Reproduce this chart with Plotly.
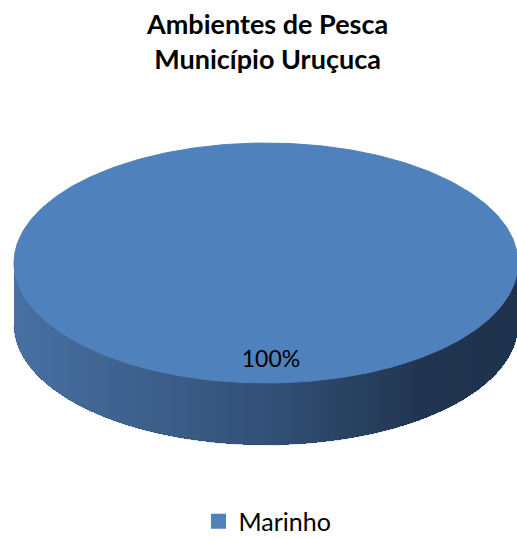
import numpy as np
import plotly.graph_objects as go

# ---- data ----
categories = ["Marinho"]
values = [100]
colors = ["#4F81BD"]
title_lines = ["Ambientes de Pesca", "Município Uruçuca"]

W, H = 517, 539
cx, cy, rx, ry, depth = 266, 263, 252, 120, 62

total = sum(values)
fig = go.Figure()

# side band gradient stops (x position, rgb)
stops_x = [cx - rx, 270, 420, cx + rx]
stops_c = [(72, 112, 162), (50, 80, 118), (33, 53, 80), (31, 50, 76)]
x_lo, x_hi = cx - rx, cx + rx
colorscale = [[(sx - x_lo) / (x_hi - x_lo), f"rgb{c}"] for sx, c in zip(stops_x, stops_c)]

start = 0.0
for cat, v, c in zip(categories, values, colors):
    frac = v / total
    t0, t1 = start, start + 2 * np.pi * frac
    start = t1
    # side band (front, lower half), drawn as a pixel-grid gradient
    gx = np.arange(int(x_lo), int(np.ceil(x_hi)) + 1) + 0.5
    gy = np.arange(int(cy) - 2, int(cy + ry + depth) + 3) + 0.5
    X, Y = np.meshgrid(gx, gy)
    u = np.clip(1 - ((X - cx) / rx) ** 2, 0, None)
    inside = (np.abs(X - cx) <= rx) & (Y >= cy - 1) & (Y <= cy + ry * np.sqrt(u) + depth)
    Z = np.where(inside, X, np.nan)
    fig.add_trace(go.Heatmap(x=gx, y=gy, z=Z, colorscale=colorscale,
                             zmin=x_lo, zmax=x_hi, showscale=False,
                             hoverinfo="skip", zsmooth=False))
    # bottom outline for smoother edge
    bt = np.linspace(0, np.pi, 200)
    fig.add_trace(go.Scatter(x=cx + rx * np.cos(bt), y=cy + ry * np.sin(bt) + depth,
                             mode="lines", line=dict(color="rgba(40,65,98,0.35)", width=0.8),
                             hoverinfo="skip", showlegend=False))
    # top face
    th = np.linspace(t0, t1, 361)
    fig.add_trace(go.Scatter(x=cx + rx * np.cos(th), y=cy + ry * np.sin(th),
                             mode="lines", fill="toself", fillcolor=c,
                             line=dict(color=c, width=1), hoverinfo="skip",
                             showlegend=False))
    # label
    mid = (t0 + t1) / 2 if frac < 1 else np.pi / 2
    lx = cx + 0.0 * rx * np.cos(mid) + 5
    ly = cy + 0.815 * ry * np.sin(mid)
    fig.add_trace(go.Scatter(x=[lx], y=[ly], mode="text",
                             text=[f"{frac*100:.0f}%"],
                             textfont=dict(family="Lato, Carlito, sans-serif", size=23, color="#000000"),
                             hoverinfo="skip", showlegend=False))
    # legend entry
    fig.add_trace(go.Scatter(x=[None], y=[None], mode="markers", name=cat,
                             marker=dict(symbol="square", size=15, color=c)))

fig.update_layout(
    width=W, height=H,
    margin=dict(l=0, r=0, t=0, b=0, autoexpand=False),
    paper_bgcolor="white", plot_bgcolor="white",
    xaxis=dict(range=[0, W], visible=False, fixedrange=True),
    yaxis=dict(range=[H, 0], visible=False, fixedrange=True),
    showlegend=True,
    legend=dict(orientation="h", x=0.5 + 9 / W, xanchor="center", y=-0.01,
                yanchor="bottom", font=dict(family="Lato, Carlito, sans-serif", size=25, color="#000000"),
                itemsizing="trace", bgcolor="rgba(0,0,0,0)"),
    annotations=[dict(text="<b>" + title_lines[0] + "<br>" + title_lines[1] + "</b>",
                      x=0.516, y=1 - 41 / H, xref="paper", yref="paper",
                      xanchor="center", yanchor="middle", showarrow=False,
                      font=dict(family="Lato, Carlito, sans-serif", size=27, color="#000000"))],
)

fig.write_html("out.html")
